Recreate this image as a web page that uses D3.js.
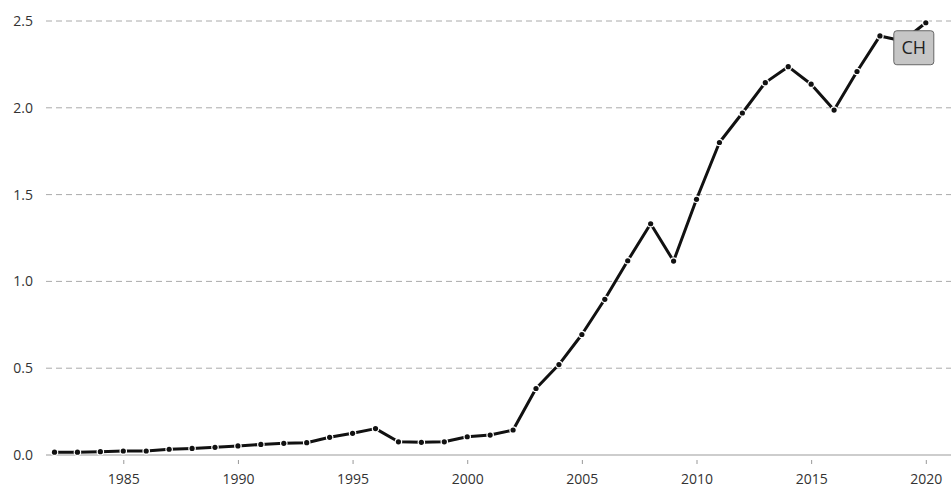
<!DOCTYPE html>
<html><head><meta charset="utf-8">
<script src="https://cdn.jsdelivr.net/npm/d3@7"></script>
<style>body{margin:0;background:#fff}svg{display:block}</style>
</head><body><svg id="c" width="951" height="488"></svg>
<script>
const years = [1982,1983,1984,1985,1986,1987,1988,1989,1990,1991,1992,1993,1994,1995,1996,1997,1998,1999,2000,2001,2002,2003,2004,2005,2006,2007,2008,2009,2010,2011,2012,2013,2014,2015,2016,2017,2018,2019,2020];
const values = [0.016,0.016,0.019,0.023,0.023,0.033,0.038,0.044,0.052,0.061,0.067,0.071,0.102,0.125,0.152,0.076,0.073,0.076,0.105,0.115,0.144,0.383,0.521,0.694,0.897,1.119,1.332,1.117,1.473,1.80,1.97,2.145,2.237,2.136,1.987,2.209,2.414,2.385,2.49];
const xTicks = [1985,1990,1995,2000,2005,2010,2015,2020];
const yTicks = [0,0.5,1.0,1.5,2.0,2.5];
const seriesLabel = "CH";

const svg = d3.select("#c");
const x = d3.scaleLinear().domain([1982,2020]).range([54.5,925.8]);
const y = d3.scaleLinear().domain([0,2.5]).range([455,21]);
const font = "'Open Sans', 'DejaVu Sans', sans-serif";

// gridlines
svg.append("g").selectAll("line").data(yTicks.filter(d=>d>0)).join("line")
  .attr("x1",46).attr("x2",951).attr("y1",d=>y(d)).attr("y2",d=>y(d))
  .attr("stroke","#aaa").attr("stroke-width",1).attr("stroke-dasharray","6,4");
// baseline
svg.append("line").attr("x1",46).attr("x2",951).attr("y1",y(0)).attr("y2",y(0))
  .attr("stroke","#bdbdbd").attr("stroke-width",1.5);

// y labels
svg.append("g").selectAll("text").data(yTicks).join("text")
  .attr("x",33).attr("y",d=>y(d)).attr("dy","0.35em").attr("text-anchor","end")
  .attr("font-family",font).attr("font-size",14).attr("fill","#333")
  .text(d=>d3.format(".1f")(d));

// x axis
const xAxis = d3.axisBottom(x).tickValues(xTicks).tickFormat(d3.format("d")).tickSize(4).tickPadding(10);
const gx = svg.append("g").attr("transform",`translate(0,${y(0)+5})`).call(xAxis);
gx.select(".domain").remove();
gx.selectAll(".tick line").attr("stroke","#999");
gx.selectAll(".tick text").attr("font-family",font).attr("font-size",14).attr("fill","#333");

// line
const data = years.map((yr,i)=>({yr, v:values[i]}));
svg.append("path").datum(data)
  .attr("d", d3.line().x(d=>x(d.yr)).y(d=>y(d.v)))
  .attr("fill","none").attr("stroke","#111").attr("stroke-width",3).attr("stroke-linejoin","round");
svg.append("g").selectAll("circle").data(data).join("circle")
  .attr("cx",d=>x(d.yr)).attr("cy",d=>y(d.v)).attr("r",2.6)
  .attr("fill","#111").attr("stroke","#fff").attr("stroke-width",2.4).attr("paint-order","stroke");

// label
const last = data[data.length-1];
const lx = x(last.yr) - 32, ly = y(last.v) + 8;
const lg = svg.append("g").attr("transform",`translate(${lx},${ly})`);
lg.append("rect").attr("width",40).attr("height",34).attr("rx",3)
  .attr("fill","#c6c6c6").attr("stroke","#666").attr("stroke-width",1);
lg.append("text").attr("x",20).attr("y",17).attr("dy","0.36em").attr("text-anchor","middle")
  .attr("font-family",font).attr("font-size",18).attr("fill","#222").text(seriesLabel);
</script></body></html>
